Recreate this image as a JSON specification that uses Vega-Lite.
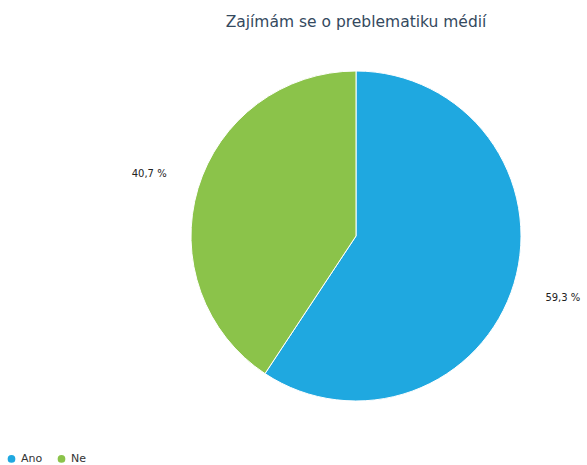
{
  "$schema": "https://vega.github.io/schema/vega-lite/v6.json",
  "width": 460,
  "height": 408,
  "autosize": "none",
  "padding": {"left": 126, "top": 32, "right": 0, "bottom": 25},
  "background": "white",
  "title": {
    "text": "Zajímám se o preblematiku médií",
    "font": "DejaVu Sans",
    "fontSize": 15.5,
    "fontWeight": "normal",
    "color": "#34495e",
    "anchor": "middle",
    "offset": 2
  },
  "data": {
    "values": [
      {"odpoved": "Ano", "podil": 59.3, "label": "59,3 %", "poradi": 1},
      {"odpoved": "Ne", "podil": 40.7, "label": "40,7 %", "poradi": 2}
    ]
  },
  "encoding": {
    "theta": {"field": "podil", "type": "quantitative", "stack": true},
    "order": {"field": "poradi", "type": "quantitative"}
  },
  "layer": [
    {
      "mark": {"type": "arc", "outerRadius": 165, "stroke": "white", "strokeWidth": 1},
      "encoding": {
        "color": {
          "field": "odpoved",
          "type": "nominal",
          "scale": {"domain": ["Ano", "Ne"], "range": ["#1fa8e0", "#8bc34a"]},
          "legend": {
            "title": null,
            "orient": "none",
            "direction": "horizontal",
            "legendX": -120,
            "legendY": 421,
            "symbolType": "circle",
            "symbolSize": 85,
            "labelFont": "DejaVu Sans",
            "labelFontSize": 11,
            "labelColor": "#333333",
            "columnPadding": 10
          }
        }
      }
    },
    {
      "mark": {"type": "text", "radius": 216, "font": "DejaVu Sans", "fontSize": 10, "color": "#222222"},
      "encoding": {"text": {"field": "label"}}
    }
  ]
}
